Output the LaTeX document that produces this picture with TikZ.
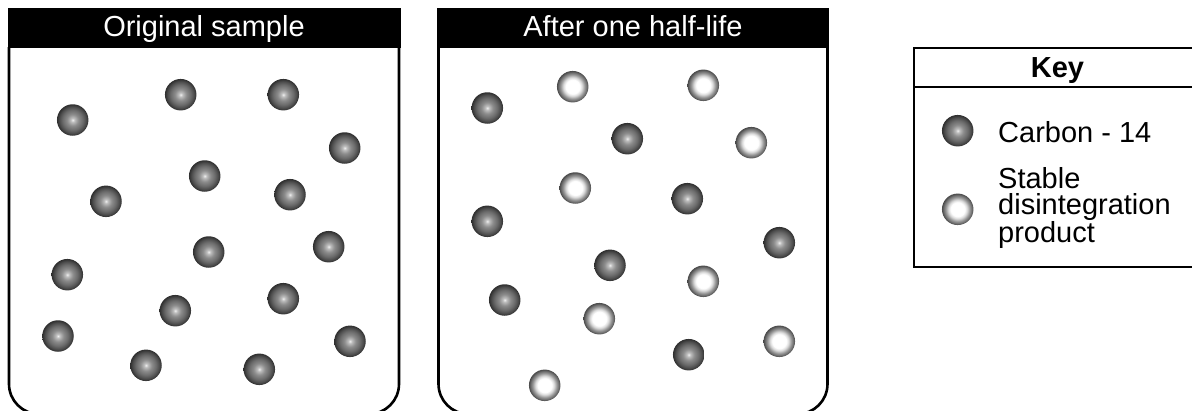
\documentclass[tikz,border=0pt]{standalone}
\usepackage{fontspec}
\setmainfont{Liberation Sans}
\newcommand{\bigtxt}{\fontsize{29}{32}\selectfont}
\pgfdeclareradialshading{darkball}{\pgfpoint{0bp}{0bp}}{color(0bp)=(black!6); color(3bp)=(black!25); color(9bp)=(black!45); color(16bp)=(black!58); color(21bp)=(black!70); color(25bp)=(black!82); color(50bp)=(black!82)}
\pgfdeclareradialshading{lightball}{\pgfpoint{0bp}{0bp}}{color(0bp)=(white); color(11bp)=(white); color(15bp)=(black!15); color(19bp)=(black!40); color(23bp)=(black!60); color(25bp)=(black!72); color(50bp)=(black!72)}
\tikzset{
  cball/.style={circle, inner sep=0pt, minimum size=31.5pt, shading=darkball, draw=none},
  sball/.style={circle, inner sep=0pt, minimum size=31.5pt, shading=lightball, draw=none},
  jar/.style={line width=2.6pt, rounded corners=30pt},
  hdrtext/.style={inner sep=0pt, text=white},
  keytext/.style={inner sep=0pt},
  keybox/.style={line width=2.6pt}
}
\begin{document}
\begin{tikzpicture}[x=1pt,y=-1pt]
\useasboundingbox (0,0) rectangle (1192,410);
% left jar
\fill[black] (7.5,8) rectangle (400.5,48);
\draw[jar] (9,47) -- (9,414) -- (399,414) -- (399,47);
\node[hdrtext, anchor=base] (t1) at (204,36) {\bigtxt Original sample};
% right jar
\fill[black] (437,8) rectangle (829,48);
\draw[jar] (438.5,47) -- (438.5,414) -- (827.5,414) -- (827.5,47);
\node[hdrtext, anchor=base] (t2) at (633,36) {\bigtxt After one half-life};
% balls left
\node[cball] (a1) at (72.7,120) {};
\node[cball] (a2) at (180.7,94.7) {};
\node[cball] (a3) at (283.3,94.7) {};
\node[cball] (a4) at (344.7,148) {};
\node[cball] (a5) at (204.7,176) {};
\node[cball] (a6) at (106,201.3) {};
\node[cball] (a7) at (290,194.7) {};
\node[cball] (a8) at (208.7,252) {};
\node[cball] (a9) at (328.7,246.7) {};
\node[cball] (a10) at (67.3,274.7) {};
\node[cball] (a11) at (283.3,298.7) {};
\node[cball] (a12) at (175.3,310.7) {};
\node[cball] (a13) at (58,336) {};
\node[cball] (a14) at (350,341.3) {};
\node[cball] (a15) at (146,365.3) {};
\node[cball] (a16) at (259.3,369.3) {};
% balls right
\node[cball] (b1) at (487.3,108) {};
\node[cball] (b2) at (627.3,138.7) {};
\node[cball] (b3) at (687.3,198.7) {};
\node[cball] (b4) at (487.3,221.3) {};
\node[cball] (b5) at (779.3,242.7) {};
\node[cball] (b6) at (610,265.3) {};
\node[cball] (b7) at (504.7,300) {};
\node[cball] (b8) at (688.7,354.7) {};
\node[sball] (c1) at (572.7,86.7) {};
\node[sball] (c2) at (703.3,85.3) {};
\node[sball] (c3) at (751.3,142.7) {};
\node[sball] (c4) at (575.3,188) {};
\node[sball] (c5) at (703.3,281.3) {};
\node[sball] (c6) at (599.3,318.7) {};
\node[sball] (c7) at (779.3,341.3) {};
\node[sball] (c8) at (544.7,385.3) {};
% key
\draw[keybox] (914,48) rectangle (1201,267);
\draw[keybox] (914,87) -- (1201,87);
\node[keytext, anchor=base] (kt) at (1057.5,77) {\bigtxt\bfseries Key};
\node[cball] (k1) at (957.7,130.7) {};
\node[sball] (k2) at (957.7,209.3) {};
\node[keytext, anchor=base west] (l1) at (998,142.7) {\bigtxt Carbon - 14};
\node[keytext, anchor=base west] (l2) at (998,188.3) {\bigtxt\vtop{\baselineskip=25.85pt\hbox{Stable}\hbox{disintegration}\hbox{product}}};
\end{tikzpicture}
\end{document}
